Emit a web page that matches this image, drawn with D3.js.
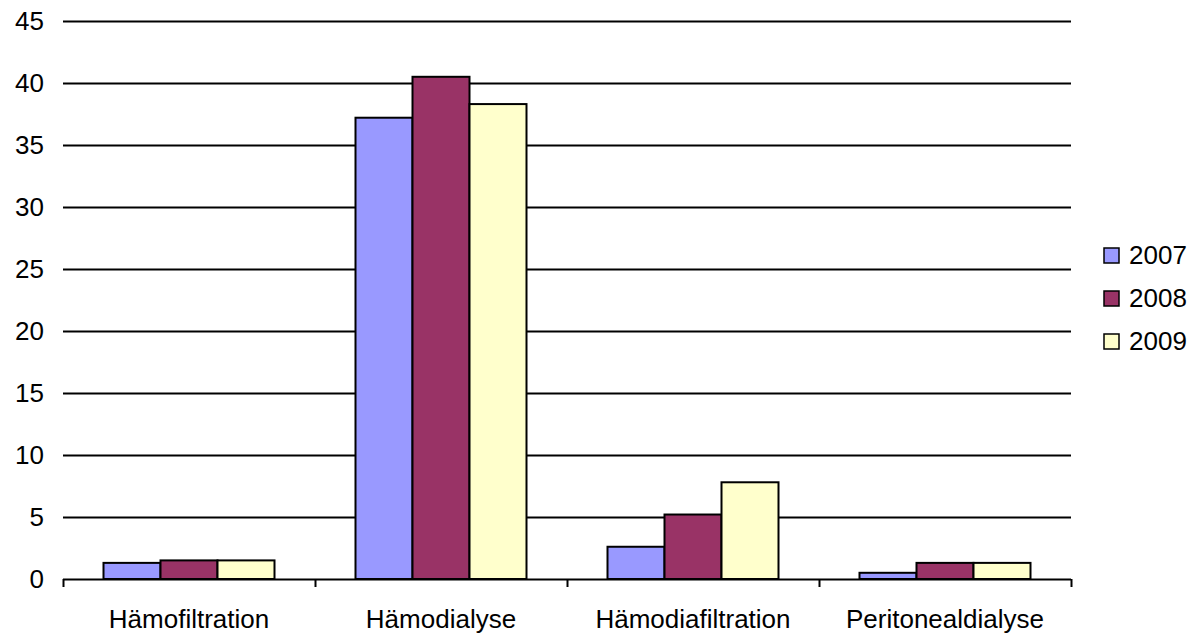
<!DOCTYPE html>
<html>
<head>
<meta charset="utf-8">
<script src="https://cdn.jsdelivr.net/npm/d3@7"></script>
<style>
  body { margin: 0; background: #fff; }
  text { font-family: "Liberation Sans", Arial, sans-serif; }
</style>
</head>
<body>
<div id="chart"></div>
<script>
var categories = ["Hämofiltration", "Hämodialyse", "Hämodiafiltration", "Peritonealdialyse"];
var years = ["2007", "2008", "2009"];
var v2007 = [1.3, 37.2, 2.6, 0.5];
var v2008 = [1.5, 40.5, 5.2, 1.3];
var v2009 = [1.5, 38.3, 7.8, 1.3];
var yTicks = [0, 5, 10, 15, 20, 25, 30, 35, 40, 45];
var colors = ["#9999ff", "#993366", "#ffffcc"];

var series = [v2007, v2008, v2009];
var width = 1193, height = 635;
var pLeft = 63, pRight = 1071, pTop = 21, pBottom = 579;

var svg = d3.select("#chart").append("svg")
    .attr("width", width)
    .attr("height", height);

var y = d3.scaleLinear().domain([0, 45]).range([pBottom, pTop]);
var x0 = d3.scaleBand().domain(categories).range([pLeft, pRight]);
var x1 = d3.scaleBand().domain(years).range([0, 171]);

// gridlines
svg.append("g")
    .selectAll("line")
    .data(yTicks)
    .join("line")
        .attr("x1", pLeft)
        .attr("x2", pRight)
        .attr("y1", d => Math.round(y(d)) + 0.5)
        .attr("y2", d => Math.round(y(d)) + 0.5)
        .attr("stroke", "#000")
        .attr("stroke-width", 2);

svg.append("g")
    .selectAll("text")
    .data(yTicks)
    .join("text")
        .attr("x", 44)
        .attr("y", d => y(d) + 9)
        .attr("text-anchor", "end")
        .attr("font-size", 26)
        .text(d => d);

// category ticks
var bounds = categories.map(c => x0(c)).concat([pRight]);
svg.append("g")
    .selectAll("line")
    .data(bounds)
    .join("line")
        .attr("x1", d => Math.round(d) + 0.5)
        .attr("x2", d => Math.round(d) + 0.5)
        .attr("y1", pBottom)
        .attr("y2", pBottom + 8)
        .attr("stroke", "#000")
        .attr("stroke-width", 2);

svg.append("g")
    .selectAll("text")
    .data(categories)
    .join("text")
        .attr("x", d => x0(d) + x0.bandwidth() / 2)
        .attr("y", 628)
        .attr("text-anchor", "middle")
        .attr("font-size", 26)
        .text(d => d);

// bars
var groupOff = (x0.bandwidth() - 171) / 2;
var grp = svg.append("g")
    .selectAll("g")
    .data(series)
    .join("g")
        .attr("fill", (d, i) => colors[i]);

grp.selectAll("rect")
    .data((s, i) => s.map((v, j) => ({v: v, cat: categories[j], yr: years[i]})))
    .join("rect")
        .attr("x", d => x0(d.cat) + groupOff + x1(d.yr))
        .attr("y", d => y(d.v))
        .attr("width", x1.bandwidth())
        .attr("height", d => pBottom - y(d.v))
        .attr("stroke", "#000")
        .attr("stroke-width", 2);

// legend
var legend = svg.append("g")
    .selectAll("g")
    .data(years)
    .join("g")
        .attr("transform", (d, i) => "translate(1104," + (248 + i * 43) + ")");
legend.append("rect")
    .attr("width", 15)
    .attr("height", 15)
    .attr("fill", (d, i) => colors[i])
    .attr("stroke", "#000")
    .attr("stroke-width", 1.5);
legend.append("text")
    .attr("x", 25)
    .attr("y", 16)
    .attr("font-size", 26)
    .text(d => d);
</script>
</body>
</html>
